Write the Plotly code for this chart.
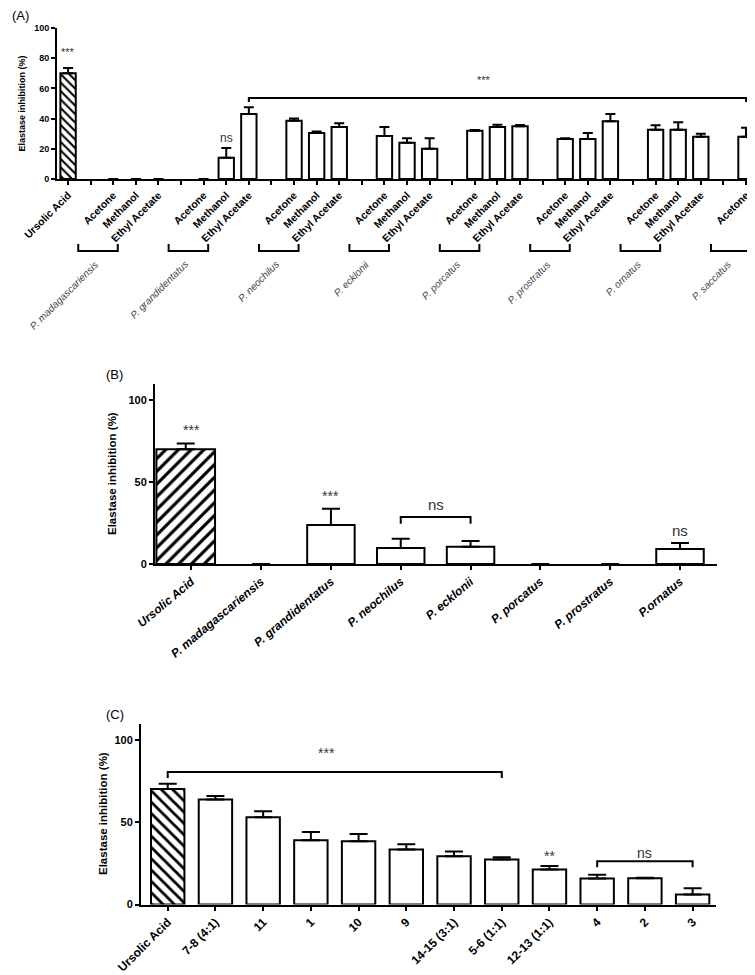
import plotly.graph_objects as go

W, H = 755, 975
FONT = "Liberation Sans, Arial, sans-serif"

# ---------------- data ----------------
# (A) crude extracts
a_labels = ["Ursolic Acid", "",
            "Acetone", "Methanol", "Ethyl Acetate", "",
            "Acetone", "Methanol", "Ethyl Acetate", "",
            "Acetone", "Methanol", "Ethyl Acetate", "",
            "Acetone", "Methanol", "Ethyl Acetate", "",
            "Acetone", "Methanol", "Ethyl Acetate", "",
            "Acetone", "Methanol", "Ethyl Acetate", "",
            "Acetone", "Methanol", "Ethyl Acetate", "",
            "Acetone"]
a_mean = [70, None,
          0, 0, 0, None,
          0, 14, 43, None,
          38.5, 30.5, 34.4, None,
          28.5, 24, 20, None,
          32, 34.5, 35, None,
          26.5, 26.5, 38.3, None,
          32.6, 32.6, 28, None,
          28]
a_err = [3.5, 0,
         0, 0, 0, 0,
         0, 6.5, 4.5, 0,
         1.5, 1, 2.6, 0,
         6, 3, 7, 0,
         0.5, 1.5, 0.8, 0,
         0.5, 4, 4.7, 0,
         3, 5, 2, 0,
         6]
a_species = ["P. madagascariensis", "P. grandidentatus", "P. neochilus", "P. ecklonii",
             "P. porcatus", "P. prostratus", "P. ornatus", "P. saccatus"]
a_group_start = [2, 6, 10, 14, 18, 22, 26, 30]

# (B) species
b_labels = ["Ursolic Acid", "P. madagascariensis", "P. grandidentatus", "P. neochilus",
            "P. ecklonii", "P. porcatus", "P. prostratus", "P.ornatus"]
b_mean = [70.1, 0, 23.8, 9.8, 10.6, 0, 0, 9.2]
b_err = [3.6, 0, 10, 5.7, 3.5, 0, 0, 3.6]

# (C) fractions
c_labels = ["Ursolic Acid", "7-8 (4:1)", "11", "1", "10", "9", "14-15 (3:1)",
            "5-6 (1:1)", "12-13 (1:1)", "4", "2", "3"]
c_mean = [70.4, 63.9, 53.1, 39.1, 38.5, 33.5, 29.4, 27.4, 21.3, 15.8, 16.0, 6.1]
c_err = [3.2, 2.2, 3.7, 5.1, 4.5, 3.2, 2.9, 1.4, 2.2, 2.3, 0.3, 3.8]


def px(x):
    return x / W


def py(y):
    return 1 - y / H


def bars(x, y, err, xa, ya, width, hatch, psize, cap, offset=None):
    shapes = [hatch] + [""] * (len(x) - 1)
    # no outline / error cap where there is no bar to draw
    lw = [2 if v else 0 for v in y]
    e = [v if (m and v) else None for m, v in zip(y, err)]
    em = [0 if v is not None else None for v in e]
    return go.Bar(
        x=x, y=y, xaxis=xa, yaxis=ya, width=width, offset=offset,
        marker=dict(color="white", line=dict(color="black", width=lw),
                    pattern=dict(shape=shapes, fgcolor="black", bgcolor="white",
                                 size=psize, solidity=0.35)),
        error_y=dict(type="data", array=e, arrayminus=em, symmetric=False,
                     color="black", thickness=2, width=cap),
        hoverinfo="skip",
    )


fig = go.Figure()
xa_idx = list(range(len(a_labels)))
fig.add_trace(bars(xa_idx, a_mean, a_err, "x", "y", 0.68, "\\", 6, 5))
xb_idx = list(range(len(b_labels)))
b_width = [0.84] + [0.68] * (len(b_labels) - 1)
b_off = [-0.5] + [-0.34] * (len(b_labels) - 1)
fig.add_trace(bars(xb_idx, b_mean, b_err, "x2", "y2", b_width, "/", 9, 9, b_off))
xc_idx = list(range(len(c_labels)))
fig.add_trace(bars(xc_idx, c_mean, c_err, "x3", "y3", 0.7, "\\", 8, 9))

axis_common = dict(showline=True, linecolor="black", linewidth=2, ticks="outside",
                   ticklen=4, tickwidth=2, tickcolor="black", showgrid=False,
                   zeroline=False, automargin=False)

fig.update_layout(
    width=W, height=H, margin=dict(l=0, r=0, t=0, b=0),
    template="none", paper_bgcolor="white", plot_bgcolor="white",
    showlegend=False, bargap=0.3,
    font=dict(family=FONT, color="black"),
    xaxis=dict(domain=[px(49), px(752)], range=[-0.49, 30.62], anchor="y",
               tickmode="array", tickvals=xa_idx, ticktext=a_labels, tickangle=-45,
               tickfont=dict(size=10.5, weight="bold"), **axis_common),
    yaxis=dict(domain=[py(171), py(20)], range=[0, 100], anchor="x",
               tickvals=[0, 20, 40, 60, 80, 100],
               tickfont=dict(size=9, weight="bold"), **axis_common),
    xaxis2=dict(domain=[px(147), px(709)], range=[-0.52, 7.53], anchor="y2",
                tickmode="array", tickvals=xb_idx, ticktext=b_labels, tickangle=-40,
                tickfont=dict(size=12, weight="bold", style="italic"), **axis_common),
    yaxis2=dict(domain=[py(556), py(376)], range=[0, 110], anchor="x2",
                tickvals=[0, 50, 100],
                tickfont=dict(size=11, weight="bold"), **axis_common),
    xaxis3=dict(domain=[px(133), px(708)], range=[-0.56, 11.49], anchor="y3",
                tickmode="array", tickvals=xc_idx, ticktext=c_labels, tickangle=-45,
                tickfont=dict(size=12, weight="bold"), **axis_common),
    yaxis3=dict(domain=[py(896.5), py(715.9)], range=[0, 110], anchor="x3",
                tickvals=[0, 50, 100],
                tickfont=dict(size=11, weight="bold"), **axis_common),
)


def bracket(x0, x1, ytop, ytip, xref, yref):
    return dict(type="path", xref=xref, yref=yref,
                path=f"M {x0},{ytip} L {x0},{ytop} L {x1},{ytop} L {x1},{ytip}",
                line=dict(color="black", width=2))


def note(text, x, y, xref, yref, size, color="#333"):
    return dict(text=text, x=x, y=y, xref=xref, yref=yref, showarrow=False,
                font=dict(size=size, color=color), xanchor="center", yanchor="middle")


shapes = [
    bracket(8, 30, 53.6, 51, "x", "y"),
    bracket(3, 4, 28.7, 24.6, "x2", "y2"),
    bracket(0, 7, 80.7, 77.1, "x3", "y3"),
    bracket(9, 11, 26.4, 22.7, "x3", "y3"),
]
# species brackets under panel A labels
for g in a_group_start:
    x0, x1 = g - 1.55, g + 0.2
    shapes.append(dict(type="path", xref="x", yref="paper",
                       path=f"M {x0},{py(236)} L {x0},{py(243)} L {x1},{py(243)} L {x1},{py(236)}",
                       line=dict(color="black", width=2)))

annotations = [
    note("***", 0, 84, "x", "y", 11),
    note("ns", 7, 27, "x", "y", 12),
    note("***", 18.4, 65.6, "x", "y", 11),
    note("***", 0, 81.7, "x2", "y2", 14),
    note("***", 2, 41.3, "x2", "y2", 14),
    note("ns", 3.5, 36.3, "x2", "y2", 15),
    note("ns", 7, 20.4, "x2", "y2", 15),
    note("***", 3.32, 92.3, "x3", "y3", 14),
    note("**", 8, 29.8, "x3", "y3", 14),
    note("ns", 10, 31.4, "x3", "y3", 14),
]
for g, name in zip(a_group_start, a_species):
    annotations.append(dict(text=f"<i>{name}</i>", x=g - 0.675, y=py(248), xref="x", yref="paper",
                            xshift=5, showarrow=False, textangle=-45, xanchor="right",
                            yanchor="top", font=dict(size=10, color="#444")))

# y-axis titles
for xpix, ypix, size in [(13, 95.5, 9), (104, 466, 11.5), (95, 806, 11.5)]:
    annotations.append(dict(text="<b>Elastase inhibition (%)</b>", x=px(xpix), y=py(ypix),
                            xref="paper", yref="paper", showarrow=False, textangle=-90,
                            xanchor="center", yanchor="middle", font=dict(size=size)))

# panel letters
for lab, xpix, ypix in [("(A)", 2, 8), ("(B)", 96, 366), ("(C)", 96, 706)]:
    annotations.append(dict(text=lab, x=px(xpix), y=py(ypix), xref="paper", yref="paper",
                            showarrow=False, xanchor="left", yanchor="middle",
                            font=dict(size=13)))

fig.update_layout(shapes=shapes, annotations=annotations)

fig.write_html("out.html")
